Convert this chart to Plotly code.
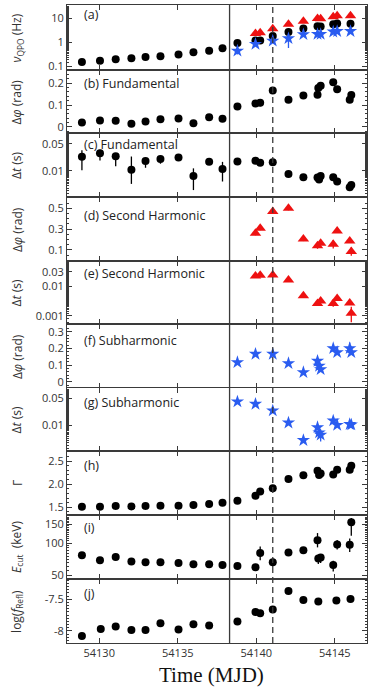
import plotly.graph_objects as go
from plotly.subplots import make_subplots

# --- data ---
t_nu_fund = [54128.9, 54130.05, 54131.05, 54132.05, 54132.95, 54133.9, 54135.05, 54136.0, 54137.0, 54137.85,
             54138.8, 54139.95, 54140.25, 54141.05, 54142.05, 54143.0, 54143.9, 54144.1, 54144.9, 54145.15, 54146.0]
nu_fund = [0.155, 0.175, 0.20, 0.22, 0.25, 0.27, 0.32, 0.39, 0.45, 0.57,
           0.95, 1.2, 1.2, 1.83, 2.7, 3.8, 4.7, 4.6, 5.6, 6.1, 5.9]
t_nu_harm = [54139.95, 54140.25, 54141.05, 54142.05, 54143.0, 54143.9, 54144.1, 54144.9, 54145.15, 54146.0]
nu_harm = [2.35, 2.5, 3.7, 5.7, 7.6, 9.8, 9.6, 11.5, 12.7, 12.8]
t_nu_sub = [54138.8, 54139.95, 54141.05, 54142.05, 54143.0, 54143.9, 54144.1, 54144.9, 54145.15, 54146.0]
nu_sub = [0.45, 0.86, 1.17, 1.47, 2.15, 2.2, 2.2, 2.77, 2.9, 2.9]
nu_sub_up = [0.1, 0.1, 0.15, 0.4, 0.2, 0.2, 0.2, 0.2, 0.2, 0.2]
nu_sub_dn = [0.13, 0.1, 0.2, 0.88, 0.3, 0.3, 0.3, 0.3, 0.3, 0.3]

t_fund = [54128.9, 54130.05, 54131.05, 54132.05, 54132.95, 54133.9, 54135.05, 54136.0, 54137.0, 54137.85,
          54138.8, 54139.95, 54140.25, 54141.05, 54142.05, 54143.0, 54143.9, 54143.95, 54144.1, 54144.9,
          54145.15, 54145.95, 54146.05]
dphi_fund = [0.02, 0.029, 0.028, 0.014, 0.025, 0.035, 0.038, 0.017, 0.044, 0.037,
             0.093, 0.107, 0.11, 0.166, 0.124, 0.143, 0.147, 0.178, 0.188, 0.204,
             0.172, 0.124, 0.146]
dphi_fund_err = [0.005, 0.005, 0.005, 0.005, 0.006, 0.005, 0.005, 0.005, 0.006, 0.01,
                 0.006, 0.008, 0.016, 0.008, 0.006, 0.006, 0.008, 0.008, 0.006, 0.006,
                 0.006, 0.014, 0.01]

t_lag_fund = [54128.9, 54130.05, 54131.05, 54132.05, 54132.95, 54133.9, 54135.05, 54136.0, 54137.0, 54137.85,
              54138.8, 54139.95, 54140.25, 54141.05, 54142.05, 54143.0, 54143.9, 54144.0, 54144.1, 54144.9,
              54145.15, 54145.95, 54146.05]
dt_fund = [0.0233, 0.0285, 0.024, 0.0105, 0.0179, 0.0202, 0.022, 0.0072, 0.0172, 0.011,
           0.0175, 0.0183, 0.0162, 0.0167, 0.0082, 0.0067, 0.0066, 0.0059, 0.0073, 0.0067,
           0.0052, 0.0037, 0.0042]
dt_fund_up = [0.011, 0.007, 0.005, 0.013, 0.003, 0.003, 0.002, 0.0043, 0.002, 0.006,
              0.002, 0.002, 0.002, 0.002, 0.0008, 0.0007, 0.0007, 0.0007, 0.0007, 0.0007,
              0.0005, 0.0004, 0.0004]
dt_fund_dn = [0.013, 0.01, 0.011, 0.006, 0.006, 0.005, 0.003, 0.0041, 0.003, 0.0058,
              0.002, 0.002, 0.002, 0.002, 0.0008, 0.0007, 0.0007, 0.0007, 0.0007, 0.0007,
              0.0005, 0.0004, 0.0004]

t_harm = [54139.95, 54140.25, 54141.05, 54142.05, 54143.0, 54143.9, 54144.1, 54144.9, 54145.15, 54145.95, 54146.05]
dphi_harm = [0.26, 0.308, 0.468, 0.5, 0.205, 0.141, 0.164, 0.155, 0.283, 0.186, 0.085]
dphi_harm_err = [0.02, 0.02, 0.02, 0.02, 0.02, 0.03, 0.02, 0.04, 0.02, 0.02, 0.04]
dt_harm = [0.0217, 0.023, 0.0235, 0.0159, 0.0047, 0.0026, 0.0031, 0.0026, 0.0038, 0.0027, 0.0012]
dt_harm_up = [0.002, 0.002, 0.002, 0.0015, 0.0005, 0.0004, 0.0004, 0.0004, 0.0005, 0.0004, 0.0008]
dt_harm_dn = [0.002, 0.002, 0.002, 0.0015, 0.0005, 0.0004, 0.0004, 0.0006, 0.0005, 0.0004, 0.0006]

t_sub = [54138.8, 54139.95, 54141.05, 54142.05, 54143.0, 54143.9, 54144.0, 54144.1, 54144.9, 54145.15, 54145.95, 54146.05]
dphi_sub = [0.116, 0.166, 0.166, 0.11, 0.056, 0.124, 0.094, 0.074, 0.2, 0.176, 0.2, 0.176]
dphi_sub_err = [0.01, 0.01, 0.01, 0.01, 0.01, 0.015, 0.015, 0.015, 0.015, 0.015, 0.035, 0.015]
dt_sub = [0.041, 0.0355, 0.0238, 0.0115, 0.0040, 0.0087, 0.0063, 0.0055, 0.013, 0.010, 0.0105, 0.0102]
dt_sub_up = [0.002, 0.002, 0.002, 0.001, 0.0005, 0.001, 0.001, 0.001, 0.001, 0.001, 0.003, 0.001]
dt_sub_dn = [0.002, 0.002, 0.002, 0.001, 0.0005, 0.001, 0.001, 0.0018, 0.001, 0.001, 0.001, 0.001]

t_spec = [54128.9, 54130.05, 54131.05, 54132.05, 54132.95, 54133.9, 54135.05, 54136.0, 54137.0, 54137.85,
          54138.8, 54139.95, 54140.25, 54141.05, 54142.05, 54143.0, 54143.9, 54144.0, 54144.1, 54144.9,
          54145.15, 54145.95, 54146.05]
gamma = [1.514, 1.514, 1.53, 1.52, 1.53, 1.536, 1.536, 1.55, 1.57, 1.60,
         1.643, 1.75, 1.84, 1.91, 2.11, 2.19, 2.29, 2.2, 2.23, 2.21,
         2.31, 2.31, 2.4]

t_ecut = [54128.9, 54130.05, 54131.05, 54132.05, 54132.95, 54133.9, 54135.05, 54136.0, 54137.0, 54137.85,
          54138.8, 54139.95, 54140.25, 54141.05, 54142.05, 54143.0, 54143.9, 54143.95, 54144.1, 54144.9,
          54145.15, 54145.95, 54146.05]
ecut = [76.8, 69, 74, 67, 66, 66, 65, 63, 63, 62,
        60.7, 59.3, 80.7, 66, 81.3, 85.5, 106, 71.5, 73, 62,
        97, 96.5, 157]
ecut_up = [2, 2, 2, 2, 2, 2, 2, 2, 2, 2,
           2, 2, 12, 6, 3, 6, 18, 5, 5, 6,
           10, 14, 15]
ecut_dn = [2, 2, 2, 2, 2, 2, 2, 2, 2, 2,
           2, 2, 12, 6, 3, 6, 15, 8, 8, 8,
           10, 14, 40]

t_refl = [54128.9, 54130.1, 54131.05, 54132.05, 54132.95, 54133.9, 54135.05, 54136.0, 54137.0,
          54138.8, 54139.95, 54140.25, 54141.05, 54142.05, 54143.0, 54143.95, 54145.1, 54146.0]
refl = [-8.08, -7.97, -7.93, -7.985, -7.985, -7.88, -7.975, -7.895, -7.915,
        -7.85, -7.70, -7.72, -7.66, -7.37, -7.51, -7.537, -7.52, -7.495]

t_solid = 54138.3
t_dash = 54141.05

x_ticks = [54130, 54135, 54140, 54145]
x_ticktext = ['54130', '54135', '54140', '54145']
panel_labels = ['(a)', '(b) Fundamental', '(c) Fundamental', '(d) Second Harmonic', '(e) Second Harmonic',
                '(f) Subharmonic', '(g) Subharmonic', '(h)', '(i)', '(j)']
y_titles = ['<i>ν</i><sub>QPO</sub> (Hz)', 'Δ<i>φ</i> (rad)', 'Δ<i>t</i> (s)', 'Δ<i>φ</i> (rad)', 'Δ<i>t</i> (s)',
            'Δ<i>φ</i> (rad)', 'Δ<i>t</i> (s)', 'Γ', '<i>E</i><sub>cut</sub>  (keV)', 'log(<i>f</i><sub>Refl</sub>)']

BLACK = '#000000'
RED = '#ee1111'
BLUE = '#2a5cf0'
AXIS = '#3a3a3a'
FONT = 'Open Sans'


def add_points(fig, row, x, y, color, symbol, size, up=None, dn=None):
    err = None
    if up is not None:
        err = dict(type='data', array=up, arrayminus=dn if dn is not None else up,
                   color=color, thickness=1.3, width=0, symmetric=dn is None)
    fig.add_scatter(x=x, y=y, mode='markers', error_y=err,
                    marker=dict(color=color, symbol=symbol, size=size, line=dict(width=0)),
                    showlegend=False, row=row, col=1)


fig = make_subplots(rows=10, cols=1, shared_xaxes=True, vertical_spacing=0,
                    row_heights=[65, 63, 64, 64, 63, 64, 63, 64, 64, 64])

# (a)
add_points(fig, 1, t_nu_harm, nu_harm, RED, 'triangle-up', 10)
add_points(fig, 1, t_nu_fund, nu_fund, BLACK, 'circle', 8)
add_points(fig, 1, t_nu_sub, nu_sub, BLUE, 'star', 10, nu_sub_up, nu_sub_dn)
# (b), (c)
add_points(fig, 2, t_fund, dphi_fund, BLACK, 'circle', 8, dphi_fund_err)
add_points(fig, 3, t_lag_fund, dt_fund, BLACK, 'circle', 8, dt_fund_up, dt_fund_dn)
# (d), (e)
add_points(fig, 4, t_harm, dphi_harm, RED, 'triangle-up', 10, dphi_harm_err)
add_points(fig, 5, t_harm, dt_harm, RED, 'triangle-up', 10, dt_harm_up, dt_harm_dn)
# (f), (g)
add_points(fig, 6, t_sub, dphi_sub, BLUE, 'star', 10, dphi_sub_err)
add_points(fig, 7, t_sub, dt_sub, BLUE, 'star', 10, dt_sub_up, dt_sub_dn)
# (h), (i), (j)
add_points(fig, 8, t_spec, gamma, BLACK, 'circle', 8)
add_points(fig, 9, t_ecut, ecut, BLACK, 'circle', 8, ecut_up, ecut_dn)
add_points(fig, 10, t_refl, refl, BLACK, 'circle', 8, [0.015] * len(refl))

y_setup = [
    dict(type='log', range=[-1.14, 1.55], tickvals=[0.1, 1, 10], ticktext=['0.1', '1', '10']),
    dict(range=[-0.028, 0.26], tickvals=[0, 0.1, 0.2], ticktext=['0', '0.1', '0.2']),
    dict(type='log', range=[-2.69, -1.013], tickvals=[0.01, 0.05], ticktext=['0.01', '0.05']),
    dict(range=[-0.006, 0.608], tickvals=[0.1, 0.3, 0.5], ticktext=['0.1', '0.3', '0.5']),
    dict(type='log', range=[-3.28, -1.157], tickvals=[0.001, 0.01, 0.03], ticktext=['0.001', '0.01', '0.03']),
    dict(range=[-0.038, 0.346], tickvals=[0, 0.1, 0.2, 0.3], ticktext=['0', '0.1', '0.2', '0.3']),
    dict(type='log', range=[-2.68, -1.03], tickvals=[0.01, 0.05], ticktext=['0.01', '0.05']),
    dict(range=[1.334, 2.716], tickvals=[1.5, 2.0, 2.5], ticktext=['1.5', '2.0', '2.5']),
    dict(type='log', range=[1.662, 2.263], tickvals=[50, 100, 150], ticktext=['50', '100', '150']),
    dict(range=[-8.19, -7.18], tickvals=[-8, -7.5], ticktext=['-8', '-7.5']),
]
label_offsets = [10, 13, 11, 18, 12, 16, 14, 15, 12, 14]

for i, ys in enumerate(y_setup, start=1):
    fig.update_yaxes(showline=True, linecolor=AXIS, linewidth=1, mirror='allticks',
                     ticks='inside', ticklen=5, tickcolor=AXIS, showgrid=False, zeroline=False,
                     tickfont=dict(family=FONT, size=11, color='#333'),
                     minor=dict(ticks='inside', ticklen=2, tickcolor=AXIS, showgrid=False),
                     row=i, col=1, **ys)
    fig.update_xaxes(showline=True, linecolor=AXIS, linewidth=1, mirror='allticks',
                     ticks='inside', ticklen=5, tickcolor=AXIS, showgrid=False, zeroline=False,
                     range=[54127.95, 54147.05], tickvals=x_ticks, ticktext=x_ticktext,
                     tickfont=dict(family=FONT, size=11, color='#333'), row=i, col=1)

    dom = fig.layout['yaxis' if i == 1 else f'yaxis{i}'].domain
    fig.add_annotation(xref='paper', yref='paper', x=-0.167, y=(dom[0] + dom[1]) / 2,
                       text=y_titles[i - 1], textangle=-90, showarrow=False,
                       xanchor='center', yanchor='middle',
                       font=dict(family=FONT, size=12, color='#333'))
    fig.add_annotation(xref='paper', yref='paper', x=0.05, y=dom[1] - label_offsets[i - 1] / 638,
                       text=panel_labels[i - 1], showarrow=False, xanchor='left', yanchor='middle',
                       font=dict(family=FONT, size=12.5, color='#222'))

fig.add_shape(type='line', xref='x', yref='paper', x0=t_solid, x1=t_solid, y0=0, y1=1,
              line=dict(color=AXIS, width=1.3))
fig.add_shape(type='line', xref='x', yref='paper', x0=t_dash, x1=t_dash, y0=0, y1=1,
              line=dict(color=AXIS, width=1.3, dash='6px,4px'))

fig.add_annotation(xref='paper', yref='paper', x=0.48, y=-0.05, text='Time (MJD)', showarrow=False,
                   xanchor='center', yanchor='middle',
                   font=dict(family='Liberation Serif', size=21, color='#111'))

fig.update_layout(width=374, height=689, margin=dict(l=67, r=7, t=5, b=46),
                  plot_bgcolor='white', paper_bgcolor='white', showlegend=False)

# the page's default body margin would shift the figure by 8 px
fig.write_html("out.html", config={'displayModeBar': False},
               post_script="document.body.style.margin='0';")
